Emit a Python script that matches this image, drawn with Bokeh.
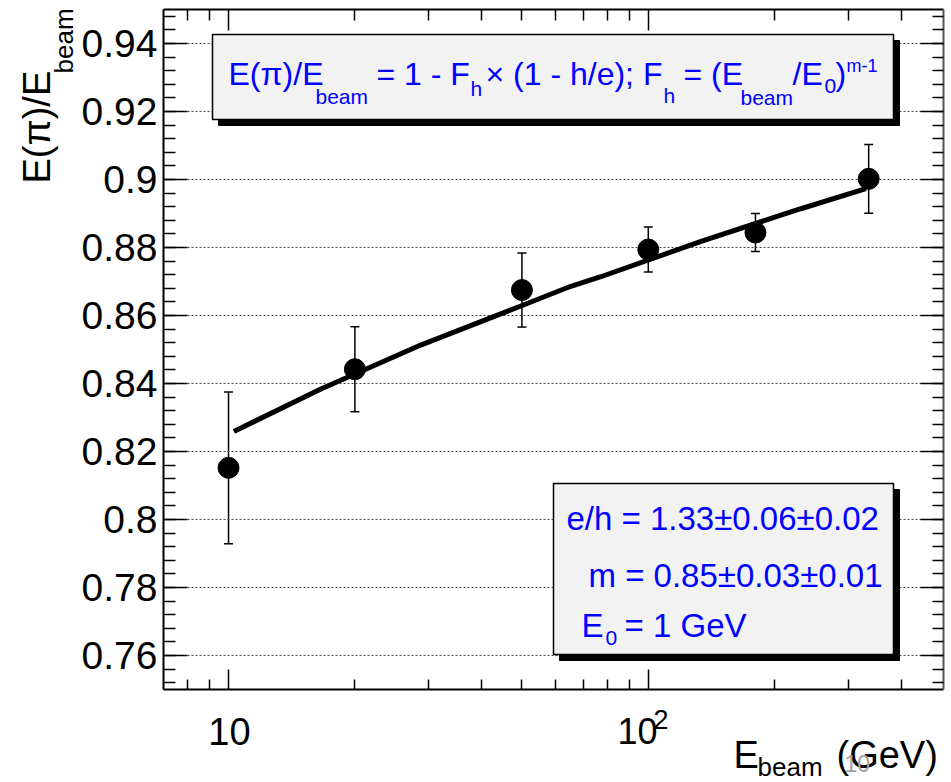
import numpy as np
from bokeh.plotting import figure
from bokeh.models import (FixedTicker, LogAxis, LinearAxis, Label, ColumnDataSource,
                          Whisker, Range1d, TeeHead)
from bokeh.embed import file_html
from bokeh.resources import INLINE

# ---------------- data ----------------
E_BEAM = [10, 20, 50, 100, 180, 335]
RESPONSE = [0.8152, 0.8442, 0.8675, 0.8794, 0.8844, 0.9002]
ERROR = [0.0223, 0.0125, 0.0109, 0.0066, 0.0056, 0.0101]

FIT_X = [10.3, 16.6, 28.7, 49.7, 65.4, 77.1, 133.6, 207, 231, 330]
FIT_Y = [0.8259, 0.8384, 0.8513, 0.8628, 0.8686, 0.8714, 0.8818, 0.8895, 0.8914, 0.8973]

X_RANGE = (7, 505)
Y_RANGE = (0.75, 0.95)
Y_TICKS = [0.76, 0.78, 0.80, 0.82, 0.84, 0.86, 0.88, 0.90, 0.92, 0.94]
Y_TICK_LABELS = ["0.76", "0.78", "0.8", "0.82", "0.84", "0.86", "0.88", "0.9", "0.92", "0.94"]
X_TICKS = [10, 100]
X_MINOR = [8, 9, 20, 30, 40, 50, 60, 70, 80, 90, 200, 300, 400]

FONT = "Liberation Sans"
BLUE = "#0000ff"

# ---------------- geometry (canvas pixels) ----------------
W, H = 951, 782
FL, FT, FW, FH = 163, 9, 780, 680   # the plotted data rectangle


def X(px):
    lo, hi = np.log10(X_RANGE[0]), np.log10(X_RANGE[1])
    return float(10 ** (lo + (px - FL) / FW * (hi - lo)))


def Y(py):
    return float(Y_RANGE[1] - (py - FT) / FH * (Y_RANGE[1] - Y_RANGE[0]))


# the bokeh frame covers the whole canvas; axes are pinned to the data rectangle
p = figure(width=W, height=H, x_axis_type="log",
           x_range=Range1d(X(0), X(W)), y_range=Range1d(Y(H), Y(0)),
           output_backend="svg", toolbar_location=None,
           min_border=0, min_border_left=0, min_border_right=0,
           min_border_top=0, min_border_bottom=0)
p.outline_line_color = None
p.background_fill_color = "white"
p.border_fill_color = "white"

y_minor = [round(v, 3) for v in np.arange(0.752, 0.9481, 0.004)]
xticker = FixedTicker(ticks=X_TICKS, minor_ticks=X_MINOR)
yticker = FixedTicker(ticks=Y_TICKS, minor_ticks=y_minor)


def style_axis(ax, major_in, minor_in, ticks, loc, bounds, color="black", labels=False):
    ax.fixed_location = loc
    ax.bounds = bounds
    ax.major_tick_in = major_in
    ax.major_tick_out = 0
    ax.minor_tick_in = minor_in
    ax.minor_tick_out = 0
    ax.axis_line_width = 2
    ax.axis_line_color = color
    ax.major_tick_line_width = 1.5
    ax.minor_tick_line_width = 1.5
    ax.major_tick_line_color = "black"
    ax.minor_tick_line_color = "black"
    if not labels:
        ax.major_label_overrides = {t: "" for t in ticks}
        ax.major_label_text_font_size = "1px"
        ax.major_label_standoff = 0


yax = p.yaxis[0]
yax.ticker = yticker
style_axis(yax, 24, 12, Y_TICKS, X_RANGE[0], Y_RANGE, labels=True)
yax.major_label_overrides = {t: s for t, s in zip(Y_TICKS, Y_TICK_LABELS)}
yax.major_label_text_font = FONT
yax.major_label_text_font_size = "39px"
yax.major_label_text_color = "black"
yax.major_label_standoff = 6

xax = p.xaxis[0]
xax.ticker = xticker
style_axis(xax, 20, 10, X_TICKS, Y_RANGE[0], X_RANGE)

top = LogAxis(ticker=xticker)
style_axis(top, 21, 11, X_TICKS, Y_RANGE[1], X_RANGE)
p.add_layout(top, "above")

right = LinearAxis(ticker=yticker)
style_axis(right, 23, 11, Y_TICKS, X_RANGE[1], Y_RANGE, color="#555555")
p.add_layout(right, "right")

# dotted horizontal grid limited to the data rectangle
p.xgrid.visible = False
p.ygrid.visible = False
p.segment(x0=[X_RANGE[0]] * len(Y_TICKS), x1=[X_RANGE[1]] * len(Y_TICKS),
          y0=Y_TICKS, y1=Y_TICKS, line_color="#444444", line_width=1, line_dash="2 2")


# ---------------- text boxes with shadows ----------------
def box(l, t, r, b, shadow=6):
    p.quad(left=X(l + shadow), right=X(r + shadow), top=Y(t + shadow), bottom=Y(b + shadow),
           fill_color="black", line_color="black")
    p.quad(left=X(l), right=X(r), top=Y(t), bottom=Y(b),
           fill_color="#f2f2f2", line_color="black", line_width=1.5)


box(212, 34, 893, 119)
box(553, 483, 893, 654)

# ---------------- data ----------------
p.line(FIT_X, FIT_Y, line_width=5, line_color="black")

lo = [y - e for y, e in zip(RESPONSE, ERROR)]
hi = [y + e for y, e in zip(RESPONSE, ERROR)]
src = ColumnDataSource(dict(x=E_BEAM, y=RESPONSE, lo=lo, hi=hi))
p.add_layout(Whisker(base="x", lower="lo", upper="hi", source=src,
                     line_color="black", line_width=1.5,
                     upper_head=TeeHead(size=9, line_width=1.5, line_color="black"),
                     lower_head=TeeHead(size=9, line_width=1.5, line_color="black")))
p.scatter("x", "y", source=src, size=21, color="black")


# ---------------- texts ----------------
# (px, py) is the wanted baseline start; bokeh centres labels vertically,
# so shift the anchor up by ~0.35 em
def txt(s, px, py, size, color="black", angle=0.0, align="left"):
    off = 0.35 * size
    if angle:
        px = px - off
    else:
        py = py - off
    p.add_layout(Label(x=X(px), y=Y(py), text=s, text_font=FONT,
                       text_font_size=f"{size}px", text_color=color, angle=angle,
                       text_align=align, text_baseline="middle"))


# formula box
txt("E(π)/E", 228, 85, 32, BLUE)
txt("beam", 315, 103, 21, BLUE)
txt("= 1 - F", 376, 85, 32, BLUE)
txt("h", 470, 95, 21, BLUE)
txt("× (1 - h/e); F", 485, 85, 32, BLUE)
txt("h", 663, 102, 21, BLUE)
txt("= (E", 683, 85, 32, BLUE)
txt("beam", 740, 104, 21, BLUE)
txt("/E", 792, 85, 32, BLUE)
txt("0", 824, 93, 21, BLUE)
txt(")", 835, 85, 32, BLUE)
txt("m-1", 846, 72, 18, BLUE)

# parameter box
txt("e/h = 1.33±0.06±0.02", 566, 530, 33, BLUE)
txt("m = 0.85±0.03±0.01", 588, 587, 33, BLUE)
txt("E", 581, 637, 33, BLUE)
txt("0", 605, 645, 21, BLUE)
txt("= 1 GeV", 624, 637, 33, BLUE)

# x tick labels
txt("10", 229, 744, 38, align="center")
txt("10", 637, 743, 36, align="center")
txt("2", 653, 728, 27)

# x title
txt("E", 733, 768, 38)
txt("beam", 757, 776, 26)
txt("(GeV)", 836, 768, 38)
txt("10", 844, 771, 23, color="#a0a0a0")

# y title (rotated)
txt("E(π)/E", 50, 183, 38, angle=np.pi / 2)
txt("beam", 73, 73, 26, angle=np.pi / 2)

open("out.html", "w").write(file_html(p, INLINE))
